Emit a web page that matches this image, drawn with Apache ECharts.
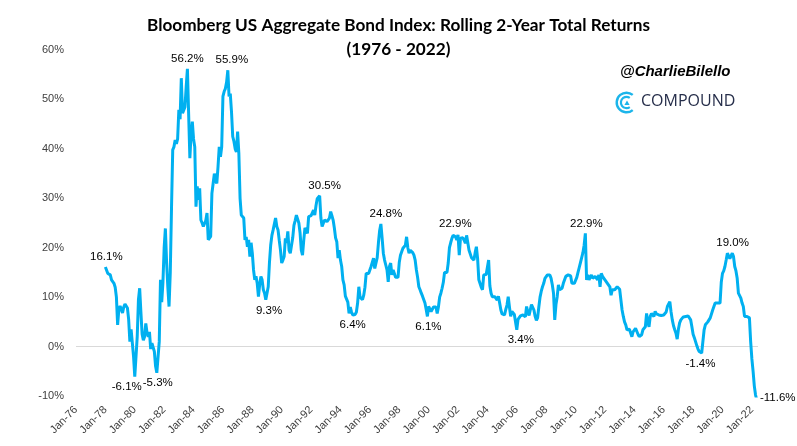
<!DOCTYPE html>
<html>
<head>
<meta charset="utf-8">
<script src="https://cdn.jsdelivr.net/npm/echarts@6/dist/echarts.min.js"></script>
<style>
html,body{margin:0;padding:0;background:#ffffff;}
#chart{width:797px;height:446px;}
</style>
</head>
<body>
<div id="chart"></div>
<script>
// ---- categories (monthly, Jan-76 .. Jun-22) ----
const monthNames = ['Jan','Feb','Mar','Apr','May','Jun','Jul','Aug','Sep','Oct','Nov','Dec'];
const firstYear = 1976;
const lastYear = 2022;
const lastYearMonths = 6;
const categories = [];
for (let y = firstYear; y <= lastYear; y++) {
  const n = (y === lastYear) ? lastYearMonths : 12;
  for (let m = 0; m < n; m++) categories.push(monthNames[m] + '-' + String(y).slice(2));
}
const seriesStart = 'Jan-78';

// ---- rolling 2-year total returns (%), monthly from Jan-78 ----
const returns1978_1981 = [
  16.1, 15.8, 14.8, 14.9, 14.5, 13.5, 13.6, 12.8, 12.0, 10.0, 4.4, 7.5,
  8.2, 7.9, 6.8, 8.0, 8.6, 9.0, 7.8, 5.5, 1.0, 3.5, 3.2, -2.0,
  -6.1, -6.0, 2.0, 9.5, 11.8, 7.0, 2.5, 1.3, 2.0, 4.7, 2.8, 2.0,
  3.0, -0.5, 0.7, 0.5, -1.0, -4.0, -5.3, -5.0, 1.0, 13.5, 9.0, 13.0
];
const returns1982_1985 = [
  20.0, 23.9, 17.0, 12.0, 8.1, 15.0, 28.0, 39.8, 40.4, 41.8, 41.0, 42.0,
  47.9, 46.0, 54.3, 47.2, 47.2, 48.5, 52.6, 56.2, 47.0, 38.1, 43.0, 45.5,
  42.0, 40.4, 28.3, 32.4, 29.7, 32.0, 25.6, 25.0, 24.3, 24.0, 25.5, 27.0,
  21.6, 22.0, 22.3, 31.0, 33.0, 35.0, 33.5, 33.0, 36.4, 40.4, 38.4, 40.4
];
const returns1986_1989 = [
  50.6, 51.6, 52.2, 53.5, 55.9, 50.6, 51.2, 47.5, 42.5, 41.5, 40.0, 39.4,
  43.5, 39.1, 30.0, 26.6, 26.6, 26.0, 21.6, 22.2, 20.2, 21.6, 18.2, 21.0,
  18.9, 15.5, 13.5, 14.2, 12.8, 10.1, 12.5, 14.2, 13.5, 11.5, 10.8, 9.5,
  9.3, 12.1, 17.0, 20.5, 22.5, 23.6, 23.3, 26.0, 24.3, 23.6, 21.5, 19.5
];
const returns1990_1993 = [
  16.9, 17.5, 18.2, 21.9, 21.0, 23.3, 19.5, 18.9, 18.9, 22.0, 24.5, 25.5,
  26.6, 26.6, 25.0, 23.0, 19.5, 18.5, 21.5, 24.0, 23.5, 22.9, 26.3, 26.3,
  26.5, 26.6, 27.6, 26.6, 28.5, 29.9, 30.0, 30.5, 26.0, 24.3, 24.6, 25.6,
  25.3, 25.3, 25.3, 26.0, 27.3, 26.5, 25.6, 24.0, 22.0, 21.2, 17.9, 19.5
];
const returns1994_1997 = [
  17.5, 16.2, 13.5, 12.5, 10.2, 9.8, 9.0, 6.7, 8.0, 7.0, 6.4, 6.7,
  6.5, 7.0, 8.8, 12.1, 10.0, 9.8, 9.5, 10.4, 12.0, 14.8, 14.5, 14.8,
  14.8, 16.2, 15.8, 17.9, 15.8, 16.2, 18.0, 21.0, 23.5, 24.8, 22.0, 18.9,
  17.5, 16.5, 15.5, 13.1, 16.2, 16.9, 14.5, 15.5, 14.8, 14.0, 13.8, 14.0
];
const returns1998_2001 = [
  17.0, 18.5, 19.2, 19.9, 20.2, 20.5, 22.2, 20.0, 18.9, 19.5, 19.2, 19.0,
  18.5, 17.5, 15.5, 14.0, 12.1, 11.5, 10.8, 10.2, 9.8, 8.8, 7.5, 6.1,
  8.1, 8.0, 7.1, 7.5, 8.0, 7.8, 8.0, 6.7, 8.0, 10.0, 10.8, 11.8,
  13.0, 15.0, 15.2, 15.0, 16.9, 20.0, 21.0, 21.9, 22.5, 22.9, 22.2, 21.6
];
const returns2002_2005 = [
  22.6, 18.5, 21.9, 21.5, 22.0, 21.5, 20.9, 22.5, 22.6, 19.5, 19.8, 18.0,
  17.8, 17.5, 19.0, 20.2, 17.8, 13.5, 13.8, 12.0, 11.5, 14.5, 14.5, 14.6,
  14.8, 17.5, 12.3, 10.8, 10.1, 10.1, 10.1, 10.4, 9.4, 10.2, 8.8, 7.4,
  6.6, 6.4, 6.4, 7.5, 8.4, 10.1, 8.0, 6.1, 7.1, 7.0, 6.5, 6.1
];
const returns2006_2009 = [
  3.4, 5.5, 5.9, 6.2, 6.4, 6.4, 6.2, 6.0, 8.1, 7.0, 6.3, 6.1,
  8.5, 8.4, 7.4, 6.1, 5.3, 5.8, 8.0, 10.0, 11.2, 12.1, 12.8, 13.8,
  14.1, 14.5, 14.8, 14.5, 13.8, 12.5, 10.8, 5.4, 8.5, 10.1, 12.5, 11.5,
  11.5, 11.8, 12.8, 13.1, 14.2, 14.5, 14.5, 14.5, 14.3, 12.8, 13.0, 12.8
];
const returns2010_2013 = [
  12.8, 14.0, 15.0, 16.0, 17.0, 18.0, 19.0, 20.5, 22.9, 13.5, 14.5, 13.5,
  14.0, 14.5, 13.8, 14.0, 14.2, 14.2, 13.5, 14.5, 12.1, 14.8, 14.2, 13.8,
  13.5, 13.1, 12.8, 12.5, 12.1, 10.4, 11.5, 11.1, 11.5, 11.8, 12.1, 11.8,
  11.6, 11.5, 7.4, 6.1, 5.0, 4.4, 3.4, 3.7, 3.5, 3.4, 2.0, 3.0
];
const returns2014_2017 = [
  3.4, 3.7, 3.4, 2.5, 2.0, 2.0, 2.4, 3.4, 3.8, 4.0, 6.7, 5.0,
  4.0, 6.1, 6.7, 6.4, 6.1, 7.1, 6.6, 6.4, 6.4, 6.1, 6.3, 6.4,
  6.4, 6.1, 7.0, 8.1, 8.4, 9.1, 7.0, 5.4, 4.2, 3.4, 2.7, 1.5,
  3.5, 4.8, 5.4, 5.6, 6.0, 6.1, 6.1, 6.1, 6.2, 6.4, 5.4, 4.0
];
const returns2018_2022 = [
  2.5, 1.8, 1.0, 0.2, -0.5, -1.0, -1.4, -1.3, -1.0, 3.4, 4.4, 4.0,
  5.0, 4.8, 5.8, 6.1, 7.4, 8.1, 8.8, 9.1, 8.8, 8.8, 8.8, 13.0,
  14.8, 15.3, 16.2, 17.5, 18.9, 19.0, 17.8, 18.2, 18.9, 18.2, 16.2, 15.3,
  13.8, 10.8, 10.3, 9.8, 8.8, 8.1, 6.1, 5.9, 6.1, 6.0, 5.8, 1.0,
  -2.5, -5.0, -8.0, -9.8, -10.8, -11.6
];
const returns = [].concat(returns1978_1981, returns1982_1985, returns1986_1989,
  returns1990_1993, returns1994_1997, returns1998_2001, returns2002_2005,
  returns2006_2009, returns2010_2013, returns2014_2017, returns2018_2022);

// y-axis ticks
const yMin = -10, yMax = 60, yStep = 10;

// labelled points (month) and label placement (style only)
const labelledMonths = ['Jan-78','Jan-80','Jul-81','Aug-83','May-86','Jan-89','Aug-92','Nov-94',
  'Oct-96','Dec-99','Oct-01','Jan-06','Sep-10','Jul-18','Jun-20'];
const labelPlacement = {
  'Jan-78': ['top', 1], 'Jan-80': ['bottom', -8], 'Jul-81': ['bottom', 1],
  'Aug-83': ['top', 0], 'May-86': ['top', 4], 'Jan-89': ['bottom', 2],
  'Aug-92': ['top', 5], 'Nov-94': ['bottom', 0], 'Oct-96': ['top', 5],
  'Dec-99': ['bottom', 1], 'Oct-01': ['top', 1], 'Jan-06': ['bottom', 4],
  'Sep-10': ['top', 1], 'Jul-18': ['bottom', 0], 'Jun-20': ['top', 4]
};

const startIdx = categories.indexOf(seriesStart);
const fmt = v => v.toFixed(1) + '%';
const labelFont = { color: '#000000', fontSize: 11.5, fontFamily: 'Liberation Sans' };

const seriesData = returns.map((v, i) => {
  const cat = categories[startIdx + i];
  const item = { value: [startIdx + i, v] };
  if (labelledMonths.indexOf(cat) >= 0) {
    const p = labelPlacement[cat];
    item.label = Object.assign({ show: true, position: p[0], offset: [p[1], 0], distance: 4,
      formatter: (pp) => fmt(pp.value[1]) }, labelFont);
  }
  return item;
});

const splitColors = [];
for (let t = yMin; t <= yMax; t += yStep) splitColors.push(t === 0 ? '#d9d9d9' : 'rgba(0,0,0,0)');

const chart = echarts.init(document.getElementById('chart'), null, { renderer: 'canvas' });
chart.setOption({
  animation: false,
  backgroundColor: '#ffffff',
  title: {
    text: 'Bloomberg US Aggregate Bond Index: Rolling 2-Year Total Returns\n(1976 - 2022)',
    left: 'center',
    top: 8,
    textStyle: { fontFamily: 'Lato', fontWeight: 'bold', fontSize: 17.2, color: '#000000', lineHeight: 24 }
  },
  grid: { left: 76, right: 39, top: 50, bottom: 50, containLabel: false },
  xAxis: {
    type: 'category',
    data: categories,
    boundaryGap: false,
    axisLine: { show: false },
    axisTick: { show: false },
    splitLine: { show: false },
    axisLabel: {
      rotate: 45,
      margin: 12,
      color: '#404040',
      fontSize: 11,
      fontFamily: 'Liberation Sans',
      interval: (idx) => idx % 24 === 0
    }
  },
  yAxis: {
    type: 'value',
    min: yMin,
    max: yMax,
    interval: yStep,
    axisLine: { show: false },
    axisTick: { show: false },
    axisLabel: { formatter: '{value}%', color: '#404040', fontSize: 11, fontFamily: 'Liberation Sans', margin: 12 },
    splitLine: { show: true, lineStyle: { color: splitColors, width: 1 } }
  },
  series: [{
    type: 'line',
    data: seriesData,
    showSymbol: true,
    showAllSymbol: true,
    symbol: 'circle',
    symbolSize: 0,
    clip: true,
    lineStyle: { color: '#00B0F0', width: 3 },
    itemStyle: { color: '#00B0F0' },
    label: { show: false },
    emphasis: { disabled: true },
    endLabel: Object.assign({ show: true, formatter: (pp) => fmt(pp.value[1]), offset: [0, -6], distance: 2 }, labelFont)
  }],
  graphic: [
    { type: 'text', left: 620, top: 64, style: { text: '@CharlieBilello', font: 'italic bold 15px "Liberation Sans"', fill: '#000000' } },
    { type: 'arc', shape: { cx: 626.5, cy: 102.5, r: 9.8, startAngle: Math.PI * 0.28, endAngle: Math.PI * 1.72, clockwise: true },
      style: { stroke: '#1CB5EA', lineWidth: 2.4, fill: 'none' } },
    { type: 'arc', shape: { cx: 626.5, cy: 102.5, r: 5.6, startAngle: Math.PI * 0.3, endAngle: Math.PI * 1.7, clockwise: true },
      style: { stroke: '#1CB5EA', lineWidth: 2.2, fill: 'none' } },
    { type: 'polygon', shape: { points: [[627, 100.5], [629.6, 105], [624.4, 105]] }, style: { fill: '#1CB5EA' } },
    { type: 'text', left: 641, top: 93, style: { text: 'COMPOUND', font: '16px "Open Sans"', fill: '#262E4A' } }
  ]
});
</script>
</body>
</html>
